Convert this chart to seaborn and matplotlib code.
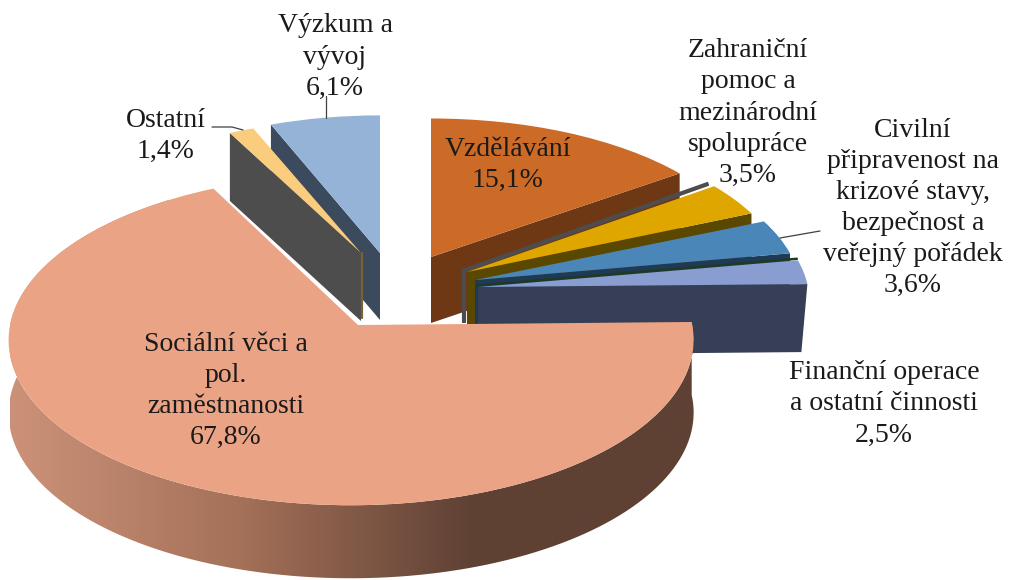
import numpy as np
import matplotlib
matplotlib.use("Agg")
import matplotlib.pyplot as plt
import matplotlib.transforms as mtransforms
from matplotlib.colors import LinearSegmentedColormap
from matplotlib.patches import PathPatch
from matplotlib.path import Path
import seaborn as sns

# ---- data -------------------------------------------------------------
categories = ["Vzdělávání", "Zahraniční\npomoc a\nmezinárodní\nspolupráce",
              "Civilní\npřipravenost na\nkrizové stavy,\nbezpečnost a\nveřejný pořádek",
              "Finanční operace\na ostatní činnosti",
              "Sociální věci a\npol.\nzaměstnanosti",
              "Ostatní", "Výzkum a\nvývoj"]
values = [15.1, 3.5, 3.6, 2.5, 67.8, 1.4, 6.1]
top_colors = ["#CC6B28", "#DFA600", "#4A86B8", "#8A9DD0", "#EBA385", "#FACD7E", "#95B3D7"]
face_colors = ["#6E3815", "#5A4700", "#1F3A57", "#363F55", "#5F4134", "#4D4D4D", "#3B4A5C"]

# ---- style of the exploded perspective pie --------------------------------
apex_x = [431, 467, 475, 478, 358, 361, 380]
apex_y = [257, 272, 280, 287, 325, 253, 253]
rad_x = [322, 320, 325, 330, 341, 312, 316]
rad_y = [151, 155, 155, 155, 164, 145.5, 150]
skew_q = [0, 0, 0, 0, 0.02, 0, 0]
depths = [66, 66, 66, 68, 73, 68, 67]
face_edge = ["end", "end", "end", "end", None, "start", "start"]
face_dx = [0, 0, 0, -6, 0, 0, 0]
draw_order = [6, 5, 0, 1, 2, 3, 4]
persp_p = 0.09
label_xy = [(508, 165), (748, 113), (913, 208), (884, 404), (226, 391), (166, 136), (335, 57)]


class Perspective(mtransforms.Transform):
    input_dims = output_dims = 2
    is_separable = False
    has_inverse = False

    def __init__(self, ax_, ay_, rx_, ry_, q_):
        super().__init__()
        self.vals = (ax_, ay_, rx_, ry_, q_)

    def transform_non_affine(self, pts):
        pts = np.asarray(pts, dtype=float)
        ax_, ay_, rx_, ry_, q_ = self.vals
        den = 1 + persp_p * pts[:, 1] + q_ * pts[:, 0]
        return np.column_stack([ax_ + rx_ * pts[:, 0] / den, ay_ - ry_ * pts[:, 1] / den])


sns.set_theme(style="white")
plt.rcParams["font.family"] = ["Liberation Serif", "DejaVu Serif"]
palette = sns.color_palette(top_colors)

fig = plt.figure(figsize=(10.11, 5.8), dpi=100, facecolor="white")
ax = fig.add_axes([0, 0, 1, 1])
wedges, _ = ax.pie(values, colors=palette, startangle=90, counterclock=False, radius=1,
                   wedgeprops=dict(linewidth=0))
ax.set_aspect("auto")
ax.set_xlim(0, 1011)
ax.set_ylim(580, 0)
ax.axis("off")

side_cmap = LinearSegmentedColormap.from_list(
    "side", [(0, "#CC9279"), (0.33, "#A57159"), (0.67, "#5F4134"), (1, "#5F4134")])

for rank, i in enumerate(draw_order):
    w = wedges[i]
    tr = Perspective(apex_x[i], apex_y[i], rad_x[i], rad_y[i], skew_q[i])
    w.set_transform(tr + ax.transData)
    w.set_zorder(10 * rank + 5)
    d = depths[i]
    apex = tr.transform_non_affine(np.array([[0.0, 0.0]]))[0]
    # theta2 is the clockwise start of the slice, theta1 its clockwise end
    if face_edge[i] is not None:
        ang = np.radians(w.theta2 if face_edge[i] == "start" else w.theta1)
        c = tr.transform_non_affine(np.array([[np.cos(ang), np.sin(ang)]]))[0]
        ax.fill([apex[0], c[0], c[0] + face_dx[i], apex[0]],
                [apex[1], c[1], c[1] + d, apex[1] + d],
                color=face_colors[i], lw=0, zorder=10 * rank + 2)
    if i == 4:
        th = np.radians(np.linspace(w.theta1, w.theta2, 300))
        arc = tr.transform_non_affine(np.column_stack([np.cos(th), np.sin(th)]))
        poly = np.vstack([arc, arc[::-1] + [0, d]])
        img = ax.imshow(np.linspace(0, 1, 256)[None, :], cmap=side_cmap, extent=(10, 700, 580, 200),
                        aspect="auto", zorder=10 * rank + 2)
        clip = PathPatch(Path(poly, closed=False), transform=ax.transData, fc="none", lw=0)
        ax.add_patch(clip)
        img.set_clip_path(clip)
    # thin coloured slivers next to the small slices
    if i == 1:
        ang = np.radians(w.theta2)
        c = tr.transform_non_affine(np.array([[np.cos(ang), np.sin(ang)]]))[0]
        ax.plot([c[0] - 5.5, apex[0] - 3, apex[0] - 3], [c[1] - 2.5, apex[1] - 1.5, apex[1] + 51],
                color="#4D4D4D", lw=3, zorder=10 * rank + 1, solid_joinstyle="miter",
                solid_capstyle="butt")
    if i == 3:
        ang = np.radians(w.theta2)
        c = tr.transform_non_affine(np.array([[np.cos(ang), np.sin(ang)]]))[0]
        ax.plot([c[0] - 1, apex[0] - 1], [c[1] - 1.5, apex[1] - 1.5],
                color="#1E3A22", lw=1.8, zorder=10 * rank + 1)
    if i == 5:
        ax.plot([apex[0] + 1, apex[0] + 1], [apex[1], apex[1] + d - 3], color="#7A6035", lw=1.6,
                zorder=10 * rank + 3)

ax.set_xlim(0, 1011)
ax.set_ylim(580, 0)

# ---- leader lines -------------------------------------------------------------
ax.plot([326, 326], [96, 118], color="#404040", lw=0.9, zorder=200)
ax.plot([212, 232, 243], [127, 127, 130], color="#404040", lw=0.9, zorder=200)
ax.plot([780, 820], [238, 231], color="#404040", lw=0.9, zorder=200)

# ---- labels -------------------------------------------------------------------
for name, val, (x, y) in zip(categories, values, label_xy):
    txt = name + "\n" + f"{val:.1f}".replace(".", ",") + "%"
    ax.text(x, y, txt, ha="center", va="center", fontsize=20, color="#1a1a1a",
            linespacing=1.32, zorder=300)

fig.savefig("out.png", dpi=100, facecolor="white")
